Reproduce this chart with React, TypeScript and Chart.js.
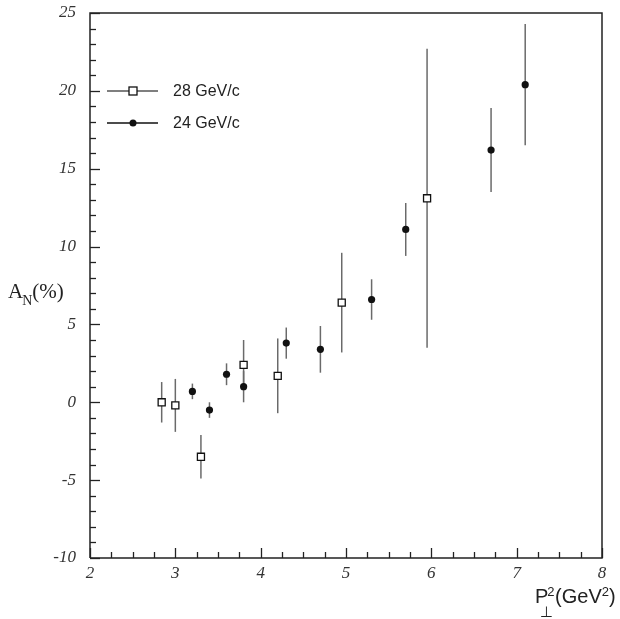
import React, { useEffect, useRef } from "react";
import { Chart, registerables } from "chart.js";

Chart.register(...registerables);

// 28 GeV/c (open squares)
const x28 = [2.84, 3.0, 3.3, 3.8, 4.2, 4.95, 5.95];
const y28 = [0.0, -0.2, -3.5, 2.4, 1.7, 6.4, 13.1];
const hi28 = [1.3, 1.5, -2.1, 4.0, 4.1, 9.6, 22.7];
const lo28 = [-1.3, -1.9, -4.9, 0.8, -0.7, 3.2, 3.5];

// 24 GeV/c (filled circles)
const x24 = [3.2, 3.4, 3.6, 3.8, 4.3, 4.7, 5.3, 5.7, 6.7, 7.1];
const y24 = [0.7, -0.5, 1.8, 1.0, 3.8, 3.4, 6.6, 11.1, 16.2, 20.4];
const hi24 = [1.2, 0.0, 2.5, 2.0, 4.8, 4.9, 7.9, 12.8, 18.9, 24.3];
const lo24 = [0.2, -1.0, 1.1, 0.0, 2.8, 1.9, 5.3, 9.4, 13.5, 16.5];

const seriesLabels = ["28 GeV/c", "24 GeV/c"];
const xRange = [2, 8];
const yRange = [-10, 25];
const xMinorStep = 0.25;
const yMinorStep = 1;

const AXIS = "#222";

const decorPlugin = {
  id: "decor",
  beforeDatasetsDraw(chart: any) {
    const ctx = chart.ctx;
    const xs = chart.scales.x;
    const ys = chart.scales.y;
    ctx.save();
    ctx.strokeStyle = "#6a6a6a";
    ctx.lineWidth = 1.5;
    const bars = [
      [x28, hi28, lo28],
      [x24, hi24, lo24],
    ];
    bars.forEach(([xv, hv, lv]: any) => {
      xv.forEach((v: number, i: number) => {
        const px = xs.getPixelForValue(v);
        ctx.beginPath();
        ctx.moveTo(px, ys.getPixelForValue(hv[i]));
        ctx.lineTo(px, ys.getPixelForValue(lv[i]));
        ctx.stroke();
      });
    });
    ctx.restore();
  },
  afterDraw(chart: any) {
    const ctx = chart.ctx;
    const xs = chart.scales.x;
    const ys = chart.scales.y;
    const a = chart.chartArea;
    ctx.save();
    // frame
    ctx.strokeStyle = AXIS;
    ctx.lineWidth = 1.5;
    ctx.beginPath();
    ctx.moveTo(a.left, a.bottom);
    ctx.lineTo(a.left, a.top);
    ctx.lineTo(a.right, a.top);
    ctx.lineTo(a.right, a.bottom);
    ctx.lineTo(a.left, a.bottom);
    ctx.stroke();
    // y ticks
    ctx.lineWidth = 1.3;
    for (let v = yRange[0]; v <= yRange[1] + 1e-9; v += yMinorStep) {
      const py = Math.round(ys.getPixelForValue(v)) + 0.5;
      const major = Math.abs(v % 5) < 1e-9;
      ctx.beginPath();
      ctx.moveTo(a.left, py);
      ctx.lineTo(a.left + (major ? 10 : 6), py);
      ctx.stroke();
    }
    // x ticks
    for (let v = xRange[0]; v <= xRange[1] + 1e-9; v += xMinorStep) {
      const px = Math.round(xs.getPixelForValue(v)) + 0.5;
      const major = Math.abs(v - Math.round(v)) < 1e-9;
      ctx.beginPath();
      ctx.moveTo(px, a.bottom);
      ctx.lineTo(px, a.bottom - (major ? 10 : 6));
      ctx.stroke();
    }
    // legend
    const legY = [91, 123];
    legY.forEach((ly, i) => {
      ctx.strokeStyle = i === 0 ? "#555" : "#111";
      ctx.lineWidth = 1.3;
      ctx.beginPath();
      ctx.moveTo(107, ly);
      ctx.lineTo(158, ly);
      ctx.stroke();
      if (i === 0) {
        ctx.fillStyle = "#fff";
        ctx.fillRect(129, ly - 4, 8, 8);
        ctx.strokeStyle = "#111";
        ctx.lineWidth = 1.3;
        ctx.strokeRect(129, ly - 4, 8, 8);
      } else {
        ctx.fillStyle = "#111";
        ctx.beginPath();
        ctx.arc(133, ly, 3.5, 0, Math.PI * 2);
        ctx.fill();
      }
      ctx.fillStyle = "#222";
      ctx.font = '16px "Liberation Sans", Arial, sans-serif';
      ctx.textBaseline = "middle";
      ctx.textAlign = "left";
      ctx.fillText(seriesLabels[i], 173, ly + 0.5);
    });
    // y axis title A_N(%)
    ctx.fillStyle = "#222";
    ctx.textBaseline = "alphabetic";
    ctx.textAlign = "left";
    ctx.font = '21px "Liberation Serif", serif';
    let cx = 8;
    ctx.fillText("A", cx, 298);
    cx += ctx.measureText("A").width;
    ctx.font = '14px "Liberation Serif", serif';
    ctx.fillText("N", cx - 1, 305);
    cx += ctx.measureText("N").width - 1;
    ctx.font = '21px "Liberation Serif", serif';
    ctx.fillText("(%)", cx, 298);
    // x axis title P_⊥^2(GeV^2)
    ctx.font = '20px "Liberation Sans", Arial, sans-serif';
    let px = 535;
    ctx.fillText("P", px, 603);
    px += ctx.measureText("P").width - 1;
    ctx.font = '13px "Liberation Sans", Arial, sans-serif';
    ctx.fillText("2", px, 596);
    const w2 = ctx.measureText("2").width;
    ctx.font = '15px "DejaVu Sans", sans-serif';
    ctx.textAlign = "center";
    ctx.fillText("\u22a5", px - 1, 617);
    ctx.textAlign = "left";
    px += w2 + 0.5;
    ctx.font = '20px "Liberation Sans", Arial, sans-serif';
    ctx.fillText("(GeV", px, 603);
    px += ctx.measureText("(GeV").width;
    ctx.font = '13px "Liberation Sans", Arial, sans-serif';
    ctx.fillText("2", px, 596);
    px += ctx.measureText("2").width;
    ctx.font = '20px "Liberation Sans", Arial, sans-serif';
    ctx.fillText(")", px, 603);
    ctx.restore();
  },
};

export default function App() {
  const ref = useRef<HTMLCanvasElement>(null);
  useEffect(() => {
    document.body.style.margin = "0";
    const canvas = ref.current!;
    const chart = new Chart(canvas, {
      type: "scatter",
      data: {
        datasets: [
          {
            label: seriesLabels[0],
            data: x28.map((x, i) => ({ x, y: y28[i] })),
            pointStyle: "rect",
            pointRadius: 5,
            backgroundColor: "#ffffff",
            borderColor: "#111",
            borderWidth: 1.3,
          },
          {
            label: seriesLabels[1],
            data: x24.map((x, i) => ({ x, y: y24[i] })),
            pointStyle: "circle",
            pointRadius: 3.6,
            backgroundColor: "#111",
            borderColor: "#111",
            borderWidth: 0,
          },
        ],
      },
      options: {
        responsive: false,
        animation: false,
        layout: { padding: { left: 0, top: 13, right: 18, bottom: 0 } },
        plugins: {
          legend: { display: false },
          tooltip: { enabled: false },
        },
        scales: {
          x: {
            type: "linear",
            min: xRange[0],
            max: xRange[1],
            grid: { display: false, drawTicks: false },
            border: { display: false },
            ticks: {
              stepSize: 1,
              padding: 5,
              color: "#333",
              font: { family: '"Liberation Serif", serif', style: "italic", size: 17 },
            },
            afterFit(scale: any) {
              scale.height = 61;
              scale.paddingLeft = 0;
              scale.paddingRight = 0;
            },
          },
          y: {
            type: "linear",
            min: yRange[0],
            max: yRange[1],
            grid: { display: false, drawTicks: false },
            border: { display: false },
            ticks: {
              stepSize: 5,
              padding: 14,
              color: "#333",
              font: { family: '"Liberation Serif", serif', style: "italic", size: 17 },
            },
            afterFit(scale: any) {
              scale.width = 90;
              scale.paddingTop = 0;
              scale.paddingBottom = 0;
            },
          },
        },
      },
      plugins: [decorPlugin],
    });
    return () => chart.destroy();
  }, []);
  return (
    <div style={{ width: 620, height: 619 }}>
      <canvas ref={ref} width={620} height={619} />
    </div>
  );
}
